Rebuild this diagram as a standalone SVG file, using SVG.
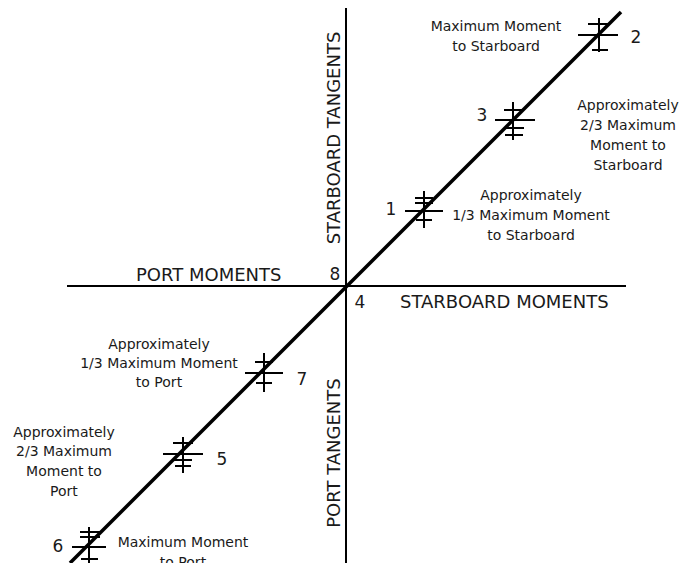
<svg xmlns="http://www.w3.org/2000/svg" width="695" height="563" viewBox="0 0 695 563">
<style>
.axis{stroke:#000;stroke-width:2;fill:none}
.diag{stroke:#000;stroke-width:3.5;fill:none}
.tk{stroke:#000;stroke-width:2;fill:none}
.lab{font-family:"DejaVu Sans",Verdana,sans-serif;font-size:14px;fill:#1a1a1a;text-anchor:middle}
.big{font-family:"DejaVu Sans",Verdana,sans-serif;font-size:18px;fill:#1a1a1a}
.num{font-family:"DejaVu Sans",Verdana,sans-serif;font-size:17px;fill:#1a1a1a;text-anchor:middle}
</style>
<rect width="695" height="563" fill="#fff"/>
<g id="connectors">
<line class="axis" x1="346" y1="8" x2="346" y2="563"/>
<line class="axis" x1="67" y1="286" x2="626" y2="286"/>
<line class="diag" x1="621" y1="12" x2="70" y2="563"/>
</g>
<g id="axis-labels">
<text class="big" x="136" y="281">PORT MOMENTS</text>
<text class="big" x="400" y="308">STARBOARD MOMENTS</text>
<text class="big" transform="translate(340,138) rotate(-90)" text-anchor="middle">STARBOARD TANGENTS</text>
<text class="big" transform="translate(340,453) rotate(-90)" text-anchor="middle">PORT TANGENTS</text>
<text class="num" x="335" y="280">8</text>
<text class="num" x="360" y="308">4</text>
</g>
<g id="point2">
<path class="tk" d="M599 18V52M588 24H610M578 35H618M592 50H608"/>
<text class="num" x="636" y="43">2</text>
<text class="lab" x="496" y="31">Maximum Moment</text>
<text class="lab" x="496" y="51">to Starboard</text>
</g>
<g id="point3">
<path class="tk" d="M513 102V140M504 110H524M495 120H535M504 128H524M505 135H523"/>
<text class="num" x="482" y="121">3</text>
<text class="lab" x="628" y="110">Approximately</text>
<text class="lab" x="628" y="130">2/3 Maximum</text>
<text class="lab" x="628" y="150">Moment to</text>
<text class="lab" x="628" y="170">Starboard</text>
</g>
<g id="point1">
<path class="tk" d="M424 191V228M415 198H433M415 203H433M405 211H443M416 220H432"/>
<text class="num" x="391" y="215">1</text>
<text class="lab" x="531" y="200">Approximately</text>
<text class="lab" x="531" y="220">1/3 Maximum Moment</text>
<text class="lab" x="531" y="240">to Starboard</text>
</g>
<g id="point7">
<path class="tk" d="M264 353V392M255 362H273M245 373H283M256 383H272"/>
<text class="num" x="302" y="385">7</text>
<text class="lab" x="159" y="349">Approximately</text>
<text class="lab" x="159" y="368">1/3 Maximum Moment</text>
<text class="lab" x="159" y="387">to Port</text>
</g>
<g id="point5">
<path class="tk" d="M183 437V473M173 443H193M163 454H203M174 460H192M175 466H191"/>
<text class="num" x="222" y="465">5</text>
<text class="lab" x="64" y="437">Approximately</text>
<text class="lab" x="64" y="456">2/3 Maximum</text>
<text class="lab" x="64" y="476">Moment to</text>
<text class="lab" x="64" y="496">Port</text>
</g>
<g id="point6">
<path class="tk" d="M89 527V563M80 532H100M80 537H100M72 547H106M81 559H98"/>
<text class="num" x="58" y="552">6</text>
<text class="lab" x="183" y="547">Maximum Moment</text>
<text class="lab" x="183" y="567">to Port</text>
</g>
</svg>
